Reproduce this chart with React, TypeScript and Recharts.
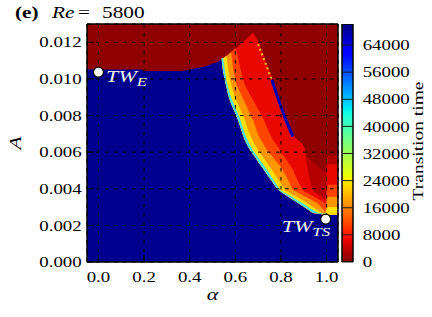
import React from "react";
import {
  ComposedChart, Area, Line, Scatter, XAxis, YAxis, CartesianGrid, BarChart, Bar, Label,
} from "recharts";

// alpha samples across the map (left edge -0.05 .. right edge 1.05)
const alphaGrid = [
  -0.05, 0.19, 0.2, 0.36, 0.415, 0.474, 0.503, 0.532,
  0.54, 0.545, 0.55, 0.56, 0.57, 0.58, 0.59, 0.6, 0.62, 0.64, 0.66, 0.677,
  0.69, 0.7, 0.72, 0.74, 0.76, 0.78, 0.8, 0.82, 0.84, 0.853, 0.86, 0.88,
  0.9, 0.92, 0.94, 0.96, 0.98, 0.995, 1.005, 1.05,
];

// top of the laminar (blue) region
const laminarEdge = [
  0.01052, 0.01052, 0.01043, 0.01043, 0.01056, 0.0107, 0.01085, 0.01101,
  0.01112, 0.01054, 0.0102, 0.00963, 0.00908, 0.0087, 0.00841, 0.00812, 0.00746, 0.00672, 0.00622, 0.0059,
  0.00567, 0.00548, 0.00513, 0.00477, 0.00442, 0.00406, 0.00384, 0.00367, 0.00351, 0.0034, 0.00335, 0.00318,
  0.00302, 0.00285, 0.00268, 0.00265, 0.00261, 0.00259, 0.00258, 0.00258,
];

const none = [null, null, null, null, null, null, null, null];

// upper limits of each transition-time band (long times near the edge)
const cyanTop = [...none,
  0.01112, 0.01114, 0.01087, 0.00999, 0.00948, 0.00904, 0.00874, 0.00844, 0.00784, 0.00708, 0.00651, 0.00611,
  0.00588, 0.00571, 0.00536, 0.00501, 0.00462, 0.00424, 0.00391, 0.00376, 0.00362, 0.00352, 0.00347, 0.00332,
  0.00317, 0.00301, 0.00285, 0.0027, 0.00265, 0.00262, 0.00258, 0.00258,
];
const yellowTop = [...none,
  0.01112, 0.01114, 0.01116, 0.01124, 0.01043, 0.00979, 0.00933, 0.00898, 0.0084, 0.00783, 0.00707, 0.00661,
  0.00632, 0.00612, 0.00576, 0.0054, 0.00504, 0.00466, 0.00427, 0.00392, 0.00378, 0.00368, 0.00363, 0.00348,
  0.00333, 0.00318, 0.00301, 0.00284, 0.00268, 0.00266, 0.00301, 0.00301,
];
const orangeTop = [...none,
  0.01112, 0.01114, 0.01116, 0.01124, 0.01134, 0.01145, 0.01061, 0.00994, 0.0093, 0.00875, 0.00822, 0.00777,
  0.00731, 0.00696, 0.0065, 0.00611, 0.0058, 0.00548, 0.00517, 0.00475, 0.00425, 0.00394, 0.00389, 0.00376,
  0.00362, 0.00348, 0.00335, 0.0032, 0.00295, 0.00276, 0.00356, 0.00356,
];
const redOrangeTop = [...none,
  0.01112, 0.01114, 0.01116, 0.01124, 0.01134, 0.01145, 0.01155, 0.01165, 0.01068, 0.00974, 0.00925, 0.00886,
  0.00857, 0.00835, 0.00789, 0.00733, 0.00677, 0.00641, 0.00604, 0.00566, 0.00528, 0.00502, 0.00482, 0.00427,
  0.00388, 0.00374, 0.00361, 0.00346, 0.00332, 0.00319, 0.00422, 0.00422,
];
const redTop = [...none,
  0.01112, 0.01114, 0.01116, 0.01124, 0.01134, 0.01145, 0.01155, 0.01165, 0.01187, 0.01208, 0.0123, 0.01249,
  0.01226, 0.01207, 0.01136, 0.01073, 0.01008, 0.00941, 0.0087, 0.00795, 0.00733, 0.00696, 0.00685, 0.00659,
  0.00632, 0.00492, 0.00391, 0.00373, 0.00355, 0.00341, 0.00532, 0.00532,
];

// dimmer red below the end of the streak
const deepAlpha = [0.84, 0.853, 0.86, 0.88, 0.9, 0.92, 0.94, 0.96, 0.98, 0.995, 1.005, 1.05];
const deepA = [0.00733, 0.00696, 0.00672, 0.00636, 0.00597, 0.0057, 0.00548, 0.00526, 0.00504, 0.00493, 0.0058, 0.0058];

// the speckled streak along the right edge of the band
const spotAlpha = [0.7, 0.72, 0.74, 0.76];
const spotA = [0.0119, 0.01125, 0.0106, 0.00995];
const streakAlpha = [0.76, 0.78, 0.8, 0.82, 0.84, 0.853];
const streakA = [0.00995, 0.0092, 0.0085, 0.0078, 0.0072, 0.00685];

const twPoints = [
  { alpha: 0, A: 0.01037, sub: "E" },
  { alpha: 0.996, A: 0.00234, sub: "TS" },
];

const xDomain = [-0.05, 1.05];
const yDomain = [0, 0.013];
const xTicks = [0, 0.2, 0.4, 0.6, 0.8, 1.0];
const yTicks = [0, 0.002, 0.004, 0.006, 0.008, 0.01, 0.012];
const cbTicks = [0, 8000, 16000, 24000, 32000, 40000, 48000, 56000, 64000];
const cbMax = 70200;

const pick = (xs: number[], ys: number[], a: number) => {
  const k = xs.indexOf(a);
  return k >= 0 ? ys[k] : null;
};

const rows = alphaGrid.map((a, i) => ({
  alpha: a,
  edge: laminarEdge[i],
  cyan: cyanTop[i],
  yellow: yellowTop[i],
  orange: orangeTop[i],
  redOrange: redOrangeTop[i],
  red: redTop[i],
  deep: pick(deepAlpha, deepA, a),
  spot: pick(spotAlpha, spotA, a),
  streak: pick(streakAlpha, streakA, a),
}));

const band = (key: string) => (d: any) => (d[key] == null ? null : [d.edge, d[key]]);

// painted back to front
const layers = [
  { key: "deep", color: "#b40000" },
  { key: "red", color: "#e80800" },
  { key: "redOrange", color: "#ff4400" },
  { key: "orange", color: "#ff9600" },
  { key: "yellow", color: "#ffe000" },
  { key: "cyan", color: "#45e2f2" },
];

const serif = "'Liberation Serif', 'Times New Roman', serif";
const sx = 1.3;
const frame = { stroke: "#000", strokeWidth: 1.5 };
const tickLine = { stroke: "#000", strokeWidth: 1 };

const XTick = ({ x, y, payload }: any) => (
  <g transform={`translate(${x},${y}) scale(${sx},1)`}>
    <text textAnchor="middle" dy="0.71em" fontFamily={serif} fontSize={14.5} fill="#000">
      {Number(payload.value).toFixed(1)}
    </text>
  </g>
);

const YTick = ({ x, y, payload }: any) => (
  <g transform={`translate(${x},${y}) scale(${sx},1)`}>
    <text textAnchor="end" dy="0.355em" fontFamily={serif} fontSize={14.5} fill="#000">
      {Number(payload.value).toFixed(3)}
    </text>
  </g>
);

const CbTick = ({ x, y, payload }: any) => (
  <g transform={`translate(${x},${y}) scale(${sx},1)`}>
    <text textAnchor="start" dy="0.355em" fontFamily={serif} fontSize={14.5} fill="#000">
      {payload.value}
    </text>
  </g>
);

function TwMarker(props: any) {
  const { cx, cy, payload } = props;
  const edge = payload.sub === "E";
  const tx = edge ? cx + 7.7 : cx - 44;
  const ty = edge ? cy + 10.3 : cy + 12.4;
  return (
    <g>
      <g transform={`translate(${tx},${ty}) scale(${sx},1)`}>
        <text fill="#f2f2f2" fontFamily={serif} fontStyle="italic" fontSize={17}>
          TW<tspan fontSize={13} dy={4}>{payload.sub}</tspan>
        </text>
      </g>
      <circle cx={cx} cy={cy} r={5} fill="#fff" stroke="#000" strokeWidth={1.2} />
    </g>
  );
}

const rotated = (x: number, y: number, text: string, size: number, italic: boolean) => (
  <g transform={`translate(${x},${y}) rotate(-90) scale(${sx},1)`}>
    <text textAnchor="middle" dominantBaseline="central" fontFamily={serif}
      fontStyle={italic ? "italic" : "normal"} fontSize={size} fill="#000">
      {text}
    </text>
  </g>
);

const renderA = ({ viewBox }: any) => rotated(viewBox.x - 12, viewBox.y + viewBox.height / 2, "A", 16.5, true);
const renderCbLabel = ({ viewBox }: any) =>
  rotated(viewBox.x + 65.3, viewBox.y + viewBox.height / 2 - 2, "Transition time", 15, false);
const renderAlpha = ({ viewBox }: any) => (
  <g transform={`translate(${viewBox.x + viewBox.width / 2},${viewBox.y + 38}) scale(${sx},1)`}>
    <text textAnchor="middle" fontFamily={serif} fontStyle="italic" fontSize={17} fill="#000">α</text>
  </g>
);

const noFx = { dot: false, activeDot: false, isAnimationActive: false } as const;
const titleSpan = { position: "absolute", transform: "scaleX(1.25)", transformOrigin: "left" } as const;

export default function App() {
  return (
    <div style={{ position: "relative", width: 432, height: 317 }}>
      <style>{"body{margin:0}"}</style>

      {/* heat map */}
      <div style={{ position: "absolute", left: 0, top: 0 }}>
        <ComposedChart width={432} height={317} data={rows}
          margin={{ top: 24, right: 94, bottom: 55, left: 87 }}>
          <XAxis dataKey="alpha" type="number" domain={xDomain} allowDataOverflow hide />
          <YAxis type="number" domain={yDomain} allowDataOverflow hide />
          <Area dataKey={() => [yDomain[0], yDomain[1]]} type="linear" stroke="none"
            fill="#8f0000" fillOpacity={1} {...noFx} />
          <Area dataKey={(d: any) => [yDomain[0], d.edge]} type="monotone" stroke="none"
            fill="#00008e" fillOpacity={1} {...noFx} />
          {layers.map(l => (
            <Area key={l.key} dataKey={band(l.key)} type="monotone" stroke="none"
              fill={l.color} fillOpacity={1} {...noFx} />
          ))}
          <Line dataKey="spot" type="linear" stroke="#ffb400" strokeWidth={2.2} strokeDasharray="2 3" {...noFx} />
          <Line dataKey="streak" type="linear" stroke="#0000b4" strokeWidth={3} {...noFx} />
        </ComposedChart>
      </div>

      {/* grid, frame, ticks and markers on top */}
      <div style={{ position: "absolute", left: 0, top: 0 }}>
        <ComposedChart width={432} height={317} data={twPoints}
          margin={{ top: 23, right: 93, bottom: 25, left: 27 }}>
          <CartesianGrid stroke="#000" strokeDasharray="3.5 5.5" strokeWidth={1} />
          <Scatter dataKey="A" shape={(p: any) => <TwMarker {...p} />} isAnimationActive={false} />
          <XAxis dataKey="alpha" type="number" domain={xDomain} ticks={xTicks} allowDataOverflow
            tick={<XTick />} height={30} tickSize={-7} tickMargin={16.4} axisLine={frame} tickLine={tickLine}>
            <Label content={renderAlpha} />
          </XAxis>
          <XAxis xAxisId="top" orientation="top" dataKey="alpha" type="number" domain={xDomain} ticks={xTicks}
            allowDataOverflow tick={false} height={1} tickSize={-7} axisLine={frame} tickLine={tickLine} />
          <YAxis type="number" domain={yDomain} ticks={yTicks} allowDataOverflow
            tick={<YTick />} width={60} tickSize={-7} tickMargin={12.3} axisLine={frame} tickLine={tickLine}>
            <Label content={renderA} />
          </YAxis>
          <YAxis yAxisId="right" orientation="right" type="number" domain={yDomain} ticks={yTicks}
            allowDataOverflow tick={false} width={1} tickSize={-7} axisLine={frame} tickLine={tickLine} />
        </ComposedChart>
      </div>

      {/* colour bar */}
      <div style={{ position: "absolute", left: 0, top: 0 }}>
        <BarChart width={432} height={317} data={[{ name: "time", value: cbMax }]} barCategoryGap={0}
          margin={{ top: 24, right: 19, bottom: 55, left: 342 }}>
          <defs>
            <linearGradient id="jetR" x1="0" y1="0" x2="0" y2="1">
              <stop offset="0" stopColor="#000080" />
              <stop offset="0.11" stopColor="#0000ff" />
              <stop offset="0.125" stopColor="#0000ff" />
              <stop offset="0.34" stopColor="#00dbff" />
              <stop offset="0.35" stopColor="#00e5f7" />
              <stop offset="0.375" stopColor="#14ffe2" />
              <stop offset="0.5" stopColor="#7bff7b" />
              <stop offset="0.64" stopColor="#eeff04" />
              <stop offset="0.66" stopColor="#ffec00" />
              <stop offset="0.89" stopColor="#ff1300" />
              <stop offset="0.91" stopColor="#e80000" />
              <stop offset="1" stopColor="#800000" />
            </linearGradient>
          </defs>
          <XAxis dataKey="name" hide />
          <Bar dataKey="value" fill="url(#jetR)" stroke="#000" strokeWidth={1.5} isAnimationActive={false} />
          <YAxis orientation="right" type="number" domain={[0, cbMax]} ticks={cbTicks} allowDataOverflow
            width={60} tick={<CbTick />} tickSize={-11} tickMargin={20.7} axisLine={false}
            tickLine={{ stroke: "#1a1a1a", strokeWidth: 1 }}>
            <Label content={renderCbLabel} />
          </YAxis>
        </BarChart>
      </div>

      <div style={{ position: "absolute", left: 0, top: 4, width: 200, height: 20, fontFamily: serif, fontSize: 17, lineHeight: 1 }}>
        <span style={{ ...titleSpan, left: 15, fontWeight: "bold" }}>(e)</span>
        <span style={{ ...titleSpan, left: 51.5, fontStyle: "italic" }}>Re</span>
        <span style={{ ...titleSpan, left: 78 }}>=</span>
        <span style={{ ...titleSpan, left: 102 }}>5800</span>
      </div>
    </div>
  );
}
